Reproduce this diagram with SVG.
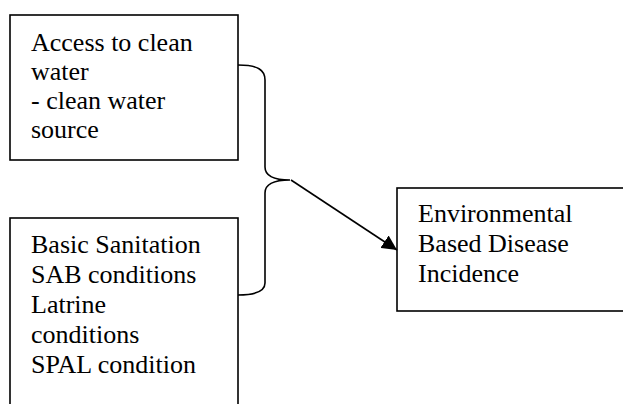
<svg xmlns="http://www.w3.org/2000/svg" width="623" height="404" viewBox="0 0 623 404">
<style>
.box{fill:#fff;stroke:#000;stroke-width:1.6}
.t{font-family:"Liberation Serif","Times New Roman",serif;font-size:26px;fill:#000}
.c{fill:none;stroke:#000;stroke-width:1.6}
</style>
<defs>
<marker id="ah" viewBox="0 0 10 10" refX="10" refY="5" markerWidth="15" markerHeight="15" markerUnits="userSpaceOnUse" orient="auto">
<path d="M0,0 L10,5 L0,10 z" fill="#000"/>
</marker>
</defs>
<rect width="623" height="404" fill="#fff"/>
<g id="node-water">
<rect class="box" x="10" y="15" width="228" height="145"/>
<text class="t" x="31" y="51">Access to clean</text>
<text class="t" x="31" y="80">water</text>
<text class="t" x="31" y="109">- clean water</text>
<text class="t" x="31" y="138">source</text>
</g>
<g id="node-sanitation">
<rect class="box" x="10" y="218" width="228" height="200"/>
<text class="t" x="31" y="253">Basic Sanitation</text>
<text class="t" x="31" y="283">SAB conditions</text>
<text class="t" x="31" y="313">Latrine</text>
<text class="t" x="31" y="343">conditions</text>
<text class="t" x="31" y="373">SPAL condition</text>
</g>
<g id="node-disease">
<rect class="box" x="397" y="188" width="240" height="123"/>
<text class="t" x="418" y="222">Environmental</text>
<text class="t" x="418" y="252">Based Disease</text>
<text class="t" x="418" y="282">Incidence</text>
</g>
<g id="connectors">
<path class="c" d="M238,65 C258,65 265,70 265,80 L265,167 C265,175 272,180 290,180 C272,180 265,185 265,193 L265,283 C265,292 255,295 238,295"/>
<path class="c" d="M291,180 L397,250" marker-end="url(#ah)" stroke-width="2"/>
</g>
</svg>
